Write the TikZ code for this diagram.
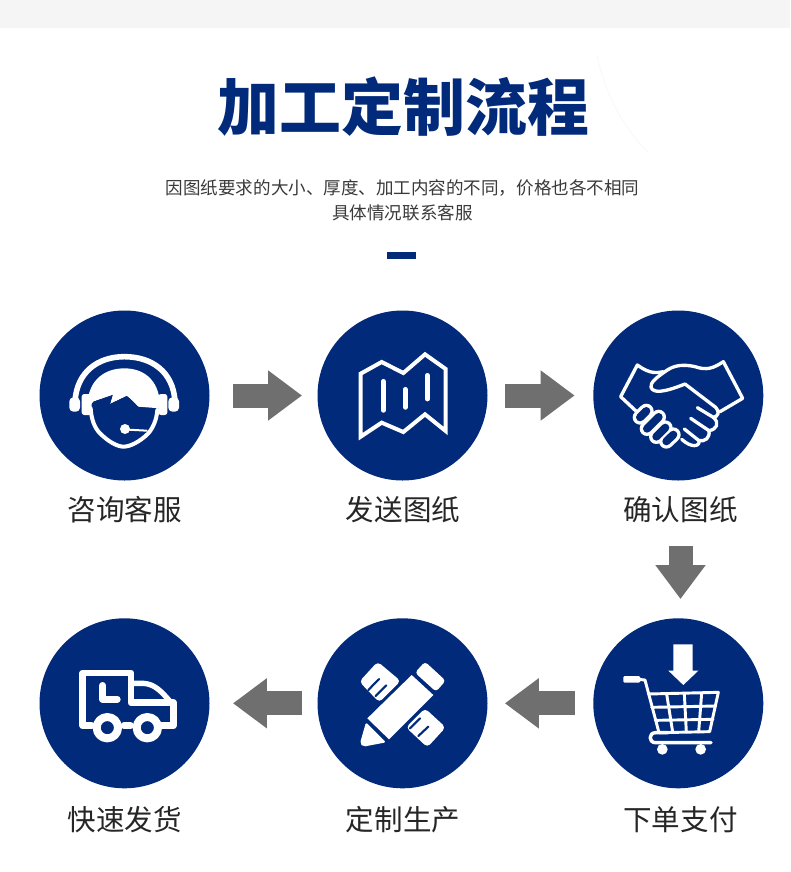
\documentclass[tikz,border=0pt]{standalone}
\usepackage{fontspec}
\usetikzlibrary{arrows.meta}
\newfontfamily\cjk{Noto Sans CJK SC}
\definecolor{navy}{HTML}{012A7A}
\definecolor{greyarrow}{HTML}{6F6F6F}
\definecolor{band}{HTML}{F5F5F5}
\definecolor{subgrey}{HTML}{3A3A3A}
\tikzset{
  disc/.style={circle,fill=navy,minimum size=127.5pt,inner sep=0pt,outer sep=0pt},
  label text/.style={font=\cjk\fontsize{21.4pt}{24pt}\selectfont,text=black!85,inner sep=0pt},
  sub text/.style={font=\cjk\fontsize{13.15pt}{15pt}\selectfont,text=subgrey,inner sep=0pt},
  title text/.style={font=\cjk\bfseries\fontsize{46.4pt}{50pt}\selectfont,text=navy,inner sep=0pt},
  blockarrow/.style={draw=greyarrow,line width=18pt,-{Triangle[length=25.5pt,width=36pt]}},
  icon/.style={x=0.25pt,y=-0.25pt,line join=round,line cap=round},
}
\begin{document}
\begin{tikzpicture}[x=0.75pt,y=-0.75pt]
\useasboundingbox (0,0) rectangle (790,872);
\fill[white] (0,0) rectangle (790,872);
\fill[band] (0,0) rectangle (790,28);
\draw[black!3,line width=0.5pt] (597,55) .. controls (605,95) and (625,130) .. (648,152);
\node[title text] (title) at (403.5,107) {加工定制流程};
\node[sub text] (sub1) at (402.5,188) {因图纸要求的大小、厚度、加工内容的不同\char"FF0C 价格也各不相同};
\node[sub text] (sub2) at (402.5,213) {具体情况联系客服};
\fill[navy] (387.3,252) rectangle (415.7,259);

\node[disc] (c1) at (124.5,395.5) {};
\node[disc] (c2) at (402.5,395.5) {};
\node[disc] (c3) at (678.3,395.5) {};
\node[disc] (c4) at (678.3,703.3) {};
\node[disc] (c5) at (402.5,703.3) {};
\node[disc] (c6) at (124.5,703.3) {};
\coordinate (c4top) at (680.5,618);

\node[label text] (l1) at (125,510) {咨询客服};
\node[label text] (l2) at (403,510) {发送图纸};
\node[label text] (l3) at (680.5,510) {确认图纸};
\node[label text] (l4) at (680.5,820) {下单支付};
\node[label text] (l5) at (403,820) {定制生产};
\node[label text] (l6) at (125,820) {快速发货};

\draw[blockarrow,shorten <=17.6pt,shorten >=11.6pt] (c1) -- (c2);
\draw[blockarrow,shorten <=13pt,shorten >=14pt] (c2) -- (c3);
\draw[blockarrow,shorten <=17pt,shorten >=14.2pt] (l3) -- (c4top);
\draw[blockarrow,shorten <=14pt,shorten >=13pt] (c4) -- (c5);
\draw[blockarrow,shorten <=11.6pt,shorten >=17.6pt] (c5) -- (c6);

% headset
\begin{scope}[shift={(30,300)},icon]
\draw[white,line width=4.2pt] (135,305) .. controls (140,215) and (205,170) .. (283,170) .. controls (365,170) and (430,215) .. (435,305);
\fill[white,rounded corners=3pt] (118,292) rectangle (150,335);
\fill[white,rounded corners=3pt] (415,292) rectangle (447,335);
\fill[white,rounded corners=2pt] (155,282) rectangle (185,345);
\fill[white,rounded corners=2pt] (385,282) rectangle (412,345);
\fill[white] (172,325) .. controls (170,250) and (215,205) .. (283,205) .. controls (350,205) and (392,250) .. (390,325) -- (325,320) .. controls (310,305) and (300,295) .. (290,288) -- (240,312) -- (248,285) -- (190,305) -- cycle;
\fill[navy] (190,305) -- (248,285) -- (240,312) -- (290,288) .. controls (300,295) and (310,305) .. (325,322) -- (375,330) .. controls (375,365) and (360,385) .. (350,395) .. controls (325,420) and (300,432) .. (281,432) .. controls (260,432) and (235,415) .. (215,395) .. controls (195,375) and (190,345) .. (190,305) -- cycle;
\draw[white,line width=3pt] (182,325) .. controls (184,360) and (195,385) .. (210,400) .. controls (235,425) and (262,440) .. (281,440) .. controls (300,440) and (330,425) .. (355,400) .. controls (368,385) and (380,360) .. (382,330);
\fill[white] (285,387) circle (15);
\draw[white,line width=1.5pt] (295,389) -- (350,392);
\end{scope}

% map
\begin{scope}[shift={(310,300)},icon]
\draw[white,line width=3pt,line cap=butt,line join=miter] (152,221) -- (215,186) -- (280,219) -- (345,163) -- (407,207) -- (407,393) -- (345,343) -- (280,396) -- (215,368) -- (152,410) -- cycle;
\draw[white,line width=3.6pt] (220,244) -- (220,331);
\draw[white,line width=3.6pt] (286,268) -- (286,322);
\draw[white,line width=3.6pt] (352,226) -- (352,297);
\end{scope}

% handshake
\begin{scope}[shift={(585,300)},icon]
\begin{scope}[white,line width=2.5pt]
\draw (155,335) -- (107,290) -- (157,195) .. controls (185,215) and (205,222) .. (235,215);
\draw (405,335) -- (473,295) -- (415,185) .. controls (385,205) and (365,212) .. (330,200) .. controls (295,192) and (265,195) .. (240,215) .. controls (215,232) and (195,248) .. (198,262) .. controls (205,280) and (235,278) .. (300,252) -- (392,322) .. controls (405,335) and (400,350) .. (385,352) -- (337,323);
\draw (385,352) .. controls (405,370) and (395,388) .. (372,392) -- (317,355);
\draw (372,392) .. controls (375,415) and (360,425) .. (342,422) -- (298,387);
\draw (342,422) .. controls (345,440) and (320,445) .. (290,418);
\end{scope}
\draw[white,line width=11pt] (165,352) -- (184,333);
\draw[white,line width=11pt] (186,386) -- (221,351);
\draw[white,line width=11pt] (214,410) -- (241,383);
\draw[white,line width=11pt] (244,424) -- (265,404);
\draw[navy,line width=6pt] (165,352) -- (184,333);
\draw[navy,line width=6pt] (186,386) -- (221,351);
\draw[navy,line width=6pt] (214,410) -- (241,383);
\draw[navy,line width=6pt] (244,424) -- (265,404);
\end{scope}

% cart
\begin{scope}[shift={(585,610)},icon]
\fill[white] (265,103) -- (323,103) -- (323,182) -- (340,182) -- (295,225) -- (250,182) -- (265,182) -- cycle;
\fill[white,rounded corners=1pt] (115,198) rectangle (166,218);
\draw[white,line width=2.2pt] (160,208) -- (180,210) -- (222,368);
\begin{scope}[white,line width=2.2pt]
\draw (190,252) -- (400,247) -- (374,365) -- (222,368);
\draw (200,292) -- (392,288);
\draw (211,331) -- (384,328);
\draw (245,252) -- (263,366);
\draw (298,251) -- (304,366);
\draw (350,250) -- (341,366);
\end{scope}
\draw[white,line width=2.6pt] (378,398) -- (212,398) .. controls (190,398) and (190,368) .. (212,368) -- (250,368);
\fill[white] (232,418) circle (16);
\fill[white] (347,418) circle (16);
\end{scope}

% pencil and ruler
\begin{scope}[shift={(310,610)},icon]
\fill[white,rounded corners=3pt] (148,215) -- (203,155) -- (272,213) -- (208,277) -- cycle;
\fill[white,rounded corners=3pt] (345,295) -- (407,352) -- (352,412) -- (288,352) -- cycle;
\draw[navy,line width=1.6pt] (175,240) -- (207,207);
\draw[navy,line width=1.6pt] (197,258) -- (229,226);
\draw[navy,line width=1.6pt] (300,355) -- (330,325);
\draw[navy,line width=1.6pt] (325,378) -- (355,350);
\draw[navy,line width=4pt,line cap=butt,line join=miter] (305,195) -- (370,255) -- (237,388) -- (172,325) -- cycle;
\fill[white] (305,195) -- (370,255) -- (237,388) -- (172,325) -- cycle;
\fill[white,rounded corners=2.5pt] (315,188) -- (345,155) -- (407,212) -- (378,245) -- cycle;
\fill[white,rounded corners=1.5pt] (168,337) -- (228,397) -- (160,410) -- (150,400) -- cycle;
\end{scope}

% truck
\begin{scope}[shift={(30,610)},icon]
\draw[white,line width=5pt] (185,347) -- (158,347) -- (158,189) -- (303,189) -- (303,278) -- (430,278) -- (430,347) -- (395,347);
\draw[white,line width=4pt] (308,220) -- (340,220) .. controls (375,222) and (395,245) .. (425,280);
\draw[white,line width=5pt] (218,226) -- (218,268) -- (262,268);
\draw[white,line width=5pt] (282,347) -- (302,347);
\draw[white,line width=6pt] (232,353) circle (32);
\draw[white,line width=6pt] (352,353) circle (32);
\end{scope}
\end{tikzpicture}
\end{document}
